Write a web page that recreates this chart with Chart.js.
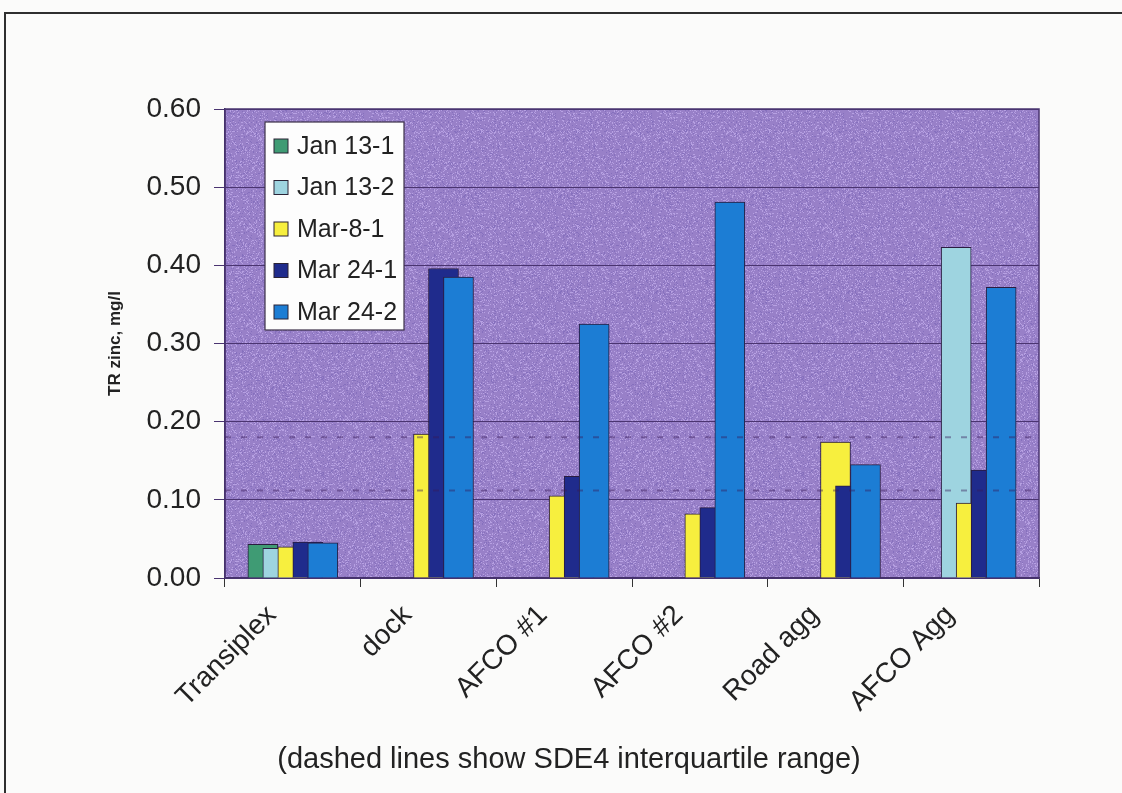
<!DOCTYPE html>
<html>
<head>
<meta charset="utf-8">
<script src="https://cdn.jsdelivr.net/npm/chart.js@4.4.1/dist/chart.umd.min.js"></script>
<style>
  html, body { margin: 0; padding: 0; background: #fbfbfa; }
  #wrap { width: 1122px; height: 793px; }
</style>
</head>
<body>
<div id="wrap"><canvas id="zinc" width="1122" height="793"></canvas></div>
<script>
// Sampling sites and sampling events
const categories = ['Transiplex', 'dock', 'AFCO #1', 'AFCO #2', 'Road agg', 'AFCO Agg'];
const seriesNames = ['Jan 13-1', 'Jan 13-2', 'Mar-8-1', 'Mar 24-1', 'Mar 24-2'];

// Total recoverable zinc, mg/l (null = not sampled)
const jan13_1 = [0.043, null, null, null, null, null];
const jan13_2 = [0.038, null, null, null, null, 0.423];
const mar8_1  = [0.040, 0.184, 0.105, 0.082, 0.174, 0.096];
const mar24_1 = [0.046, 0.396, 0.130, 0.090, 0.118, 0.138];
const mar24_2 = [0.045, 0.385, 0.325, 0.481, 0.145, 0.372];

// SDE4 interquartile range (dashed reference lines)
const iqrLow = 0.112;
const iqrHigh = 0.180;

// Value axis ticks
const yMin = 0, yMax = 0.6, yStep = 0.1;

const seriesValues = [jan13_1, jan13_2, mar8_1, mar24_1, mar24_2];
const seriesColors = ['#3f9b74', '#9ed4e0', '#f7ef3e', '#1f2b8c', '#1c7dd4'];

// Overlapping columns: each series is shifted by half a column width
const BAR_PX = 30;
const SHIFT = 0.1105; // in category units

const FONT = "'Liberation Sans', Arial, Helvetica, sans-serif";
Chart.defaults.font.family = FONT;
Chart.defaults.color = '#222';

const barSets = seriesValues.map((vals, k) => ({
  type: 'bar',
  label: seriesNames[k],
  xAxisID: 'xb',
  yAxisID: 'y',
  data: vals.map((v, i) => (v === null ? null : { x: i + (k - 2) * SHIFT, y: v })).filter(p => p !== null),
  backgroundColor: seriesColors[k],
  borderColor: '#2a1c40',
  borderWidth: 1,
  barThickness: BAR_PX,
  grouped: false,
  order: seriesValues.length - 1 - k
}));

const iqrLine = (val, name) => ({
  type: 'line',
  label: name,
  xAxisID: 'xb',
  yAxisID: 'y',
  data: [{ x: -0.5, y: val }, { x: categories.length - 0.5, y: val }],
  borderColor: 'rgba(55, 25, 85, 0.42)',
  borderWidth: 2,
  borderDash: [6, 10],
  pointRadius: 0,
  fill: false,
  order: -1
});

// Grainy printed fill for the plot area (deterministic hash speckle)
function grainPattern(ctx) {
  const size = 96;
  const c = document.createElement('canvas');
  c.width = size; c.height = size;
  const g = c.getContext('2d');
  g.fillStyle = '#9880c8';
  g.fillRect(0, 0, size, size);
  const img = g.getImageData(0, 0, size, size);
  for (let y = 0; y < size; y++) {
    for (let x = 0; x < size; x++) {
      let h = (x * 374761393 + y * 668265263) | 0;
      h = Math.imul(h ^ (h >>> 13), 1274126177);
      h = (h ^ (h >>> 16)) >>> 0;
      const t = (h % 1000) / 1000;
      const p = (y * size + x) * 4;
      if (t > 0.86) {            // light speckle
        img.data[p] += 30; img.data[p + 1] += 32; img.data[p + 2] += 26;
      } else if (t < 0.10) {     // darker speckle
        img.data[p] -= 18; img.data[p + 1] -= 16; img.data[p + 2] -= 10;
      }
    }
  }
  g.putImageData(img, 0, 0);
  return ctx.createPattern(c, 'repeat');
}

// Page frame and plot background
const plotFrame = {
  id: 'plotFrame',
  beforeDraw(chart) {
    const { ctx, chartArea: a, width, height } = chart;
    ctx.save();
    ctx.fillStyle = '#fbfbfa';
    ctx.fillRect(0, 0, width, height);
    ctx.strokeStyle = '#2f2f2f';
    ctx.lineWidth = 2;
    ctx.beginPath();
    ctx.moveTo(5, height);
    ctx.lineTo(5, 13);
    ctx.lineTo(width, 13);
    ctx.stroke();
    ctx.fillStyle = grainPattern(ctx);
    ctx.fillRect(a.left, a.top, a.width, a.height);
    ctx.restore();
  },
  beforeDatasetsDraw(chart) {
    const { ctx, chartArea: a } = chart;
    ctx.save();
    ctx.strokeStyle = '#4a3470';
    ctx.lineWidth = 1.5;
    ctx.strokeRect(a.left, a.top, a.width, a.height);
    ctx.restore();
  }
};

// Boxed legend inside the plot area
const boxLegend = {
  id: 'boxLegend',
  afterDraw(chart) {
    const { ctx, chartArea: a } = chart;
    const items = chart.data.datasets.filter(d => d.type === 'bar');
    const x0 = a.left + 40, y0 = a.top + 13, w = 139, h = 208, rowH = 41.5;
    ctx.save();
    ctx.fillStyle = '#fdfdfd';
    ctx.fillRect(x0, y0, w, h);
    ctx.strokeStyle = '#3b3048';
    ctx.lineWidth = 1.2;
    ctx.strokeRect(x0, y0, w, h);
    ctx.font = '25px ' + FONT;
    ctx.textBaseline = 'middle';
    ctx.textAlign = 'left';
    items.forEach((d, i) => {
      const cy = y0 + 24 + i * rowH;
      ctx.fillStyle = d.backgroundColor;
      ctx.fillRect(x0 + 9, cy - 7, 14, 14);
      ctx.strokeStyle = '#2a2235';
      ctx.lineWidth = 1;
      ctx.strokeRect(x0 + 9, cy - 7, 14, 14);
      ctx.fillStyle = '#222';
      ctx.fillText(d.label, x0 + 32, cy + 1);
    });
    ctx.restore();
  }
};

new Chart(document.getElementById('zinc'), {
  type: 'bar',
  data: {
    labels: categories,
    datasets: [...barSets, iqrLine(iqrHigh, 'SDE4 upper quartile'), iqrLine(iqrLow, 'SDE4 lower quartile')]
  },
  options: {
    responsive: false,
    animation: false,
    devicePixelRatio: 1,
    layout: { padding: { left: 99, right: 83, top: 109, bottom: 0 } },
    plugins: {
      legend: { display: false },
      tooltip: { enabled: false },
      title: {
        display: true,
        position: 'bottom',
        text: '(dashed lines show SDE4 interquartile range)',
        font: { size: 29, weight: 'normal' },
        color: '#222',
        padding: { top: 0, bottom: 16 }
      }
    },
    scales: {
      x: {
        type: 'category',
        offset: true,
        grid: { display: true, offset: true, drawOnChartArea: false, drawTicks: true, tickLength: 9, color: '#333', lineWidth: 1 },
        border: { display: true, color: '#3a2860', width: 1.5 },
        ticks: { font: { size: 28 }, color: '#222', minRotation: 45, maxRotation: 45, autoSkip: false, labelOffset: -21, padding: 12 },
        afterFit(scale) { scale.height = 793 - 578 - (29 * 1.2 + 16); }
      },
      xb: {
        type: 'linear',
        display: false,
        offset: false,
        min: -0.5,
        max: categories.length - 0.5,
        grid: { offset: false }
      },
      y: {
        type: 'linear',
        min: yMin,
        max: yMax,
        ticks: { stepSize: yStep, font: { size: 28 }, color: '#222', padding: 13, callback: v => v.toFixed(2) },
        grid: { color: '#4a3470', lineWidth: 1, tickLength: 11, drawTicks: true },
        border: { display: true, color: '#3a2860', width: 1.5 },
        title: { display: true, text: 'TR zinc, mg/l', font: { size: 17, weight: 'bold' }, color: '#222', padding: { top: 6, bottom: 0 } },
        afterFit(scale) { scale.width = 126; }
      }
    }
  },
  plugins: [plotFrame, boxLegend]
});
</script>
</body>
</html>
